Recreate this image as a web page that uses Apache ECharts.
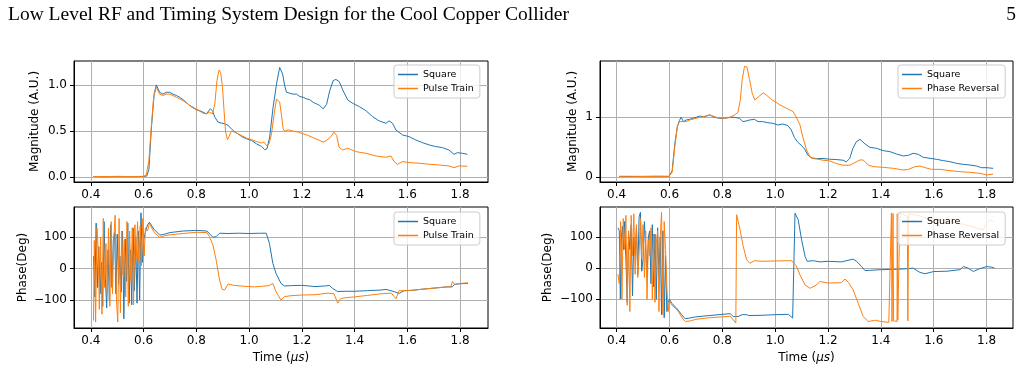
<!DOCTYPE html>
<html>
<head>
<meta charset="utf-8">
<script src="https://cdn.jsdelivr.net/npm/echarts@6/dist/echarts.min.js"></script>
<style>
  html, body { margin: 0; padding: 0; background: #fff; }
  #main { width: 1027px; height: 373px; }
</style>
</head>
<body>
<div id="main"></div>
<script>
// tick values
var timeTicks = [0.4, 0.6, 0.8, 1.0, 1.2, 1.4, 1.6, 1.8]
var magTicksA = [0, 0.5, 1.0]
var magTicksB = [0, 1]
var phaseTicks = [-100, 0, 100]

// top left: magnitude, square vs pulse train  [time us, A.U.]
var squareMagA = [[0.41,0.005],[0.45,0.003],[0.5,0.005],[0.55,0.004],[0.6,0.005],[0.612,0.01],[0.62,0.08],[0.63,0.55],[0.64,0.9],[0.648,1.0],[0.651,0.99],[0.661,0.92],[0.673,0.9],[0.686,0.92],[0.699,0.92],[0.711,0.9],[0.724,0.885],[0.737,0.866],[0.749,0.84],[0.762,0.81],[0.775,0.776],[0.787,0.758],[0.8,0.733],[0.813,0.72],[0.825,0.704],[0.838,0.686],[0.844,0.697],[0.853,0.74],[0.861,0.72],[0.87,0.65],[0.882,0.596],[0.895,0.585],[0.908,0.578],[0.92,0.56],[0.933,0.523],[0.946,0.487],[0.958,0.469],[0.971,0.44],[0.99,0.415],[1.009,0.397],[1.028,0.36],[1.047,0.332],[1.059,0.296],[1.068,0.307],[1.078,0.433],[1.091,0.758],[1.104,1.01],[1.116,1.19],[1.127,1.12],[1.135,0.99],[1.142,0.92],[1.154,0.91],[1.167,0.9],[1.18,0.9],[1.192,0.874],[1.205,0.866],[1.218,0.848],[1.23,0.84],[1.243,0.81],[1.256,0.794],[1.268,0.776],[1.281,0.74],[1.287,0.73],[1.294,0.79],[1.306,0.94],[1.319,1.047],[1.329,1.06],[1.342,1.036],[1.355,0.946],[1.374,0.837],[1.393,0.8],[1.418,0.764],[1.443,0.72],[1.468,0.656],[1.493,0.609],[1.519,0.583],[1.531,0.609],[1.544,0.583],[1.557,0.51],[1.582,0.456],[1.607,0.438],[1.632,0.402],[1.657,0.373],[1.683,0.348],[1.708,0.33],[1.733,0.319],[1.758,0.293],[1.777,0.246],[1.79,0.264],[1.809,0.257],[1.828,0.246]]
var pulseMag = [[0.41,0.005],[0.45,0.004],[0.5,0.006],[0.55,0.004],[0.6,0.006],[0.61,0.02],[0.62,0.18],[0.629,0.54],[0.638,0.866],[0.648,0.975],[0.661,0.9],[0.673,0.885],[0.686,0.9],[0.699,0.9],[0.711,0.885],[0.724,0.866],[0.737,0.848],[0.749,0.83],[0.762,0.805],[0.775,0.776],[0.787,0.75],[0.8,0.729],[0.813,0.715],[0.825,0.693],[0.838,0.686],[0.85,0.704],[0.861,0.686],[0.87,0.794],[0.878,1.047],[0.886,1.162],[0.892,1.137],[0.899,0.975],[0.905,0.722],[0.911,0.487],[0.918,0.404],[0.924,0.44],[0.933,0.498],[0.946,0.487],[0.958,0.469],[0.971,0.451],[0.99,0.422],[1.009,0.404],[1.028,0.386],[1.047,0.368],[1.056,0.379],[1.066,0.343],[1.076,0.361],[1.085,0.469],[1.095,0.686],[1.104,0.848],[1.11,0.866],[1.116,0.812],[1.123,0.668],[1.129,0.523],[1.135,0.495],[1.148,0.512],[1.167,0.498],[1.186,0.487],[1.205,0.469],[1.224,0.451],[1.243,0.426],[1.262,0.404],[1.281,0.379],[1.294,0.397],[1.309,0.433],[1.322,0.487],[1.332,0.451],[1.341,0.325],[1.355,0.293],[1.374,0.312],[1.405,0.275],[1.443,0.257],[1.481,0.228],[1.519,0.214],[1.538,0.228],[1.55,0.167],[1.563,0.138],[1.582,0.167],[1.607,0.156],[1.645,0.149],[1.683,0.138],[1.72,0.13],[1.758,0.12],[1.777,0.101],[1.796,0.12],[1.828,0.116]]

// top right: magnitude, square vs phase reversal
var squareMagB = [[0.41,0.01],[0.45,0.008],[0.5,0.01],[0.55,0.012],[0.598,0.01],[0.61,0.1],[0.62,0.55],[0.63,0.85],[0.638,0.95],[0.644,1.0],[0.653,0.927],[0.663,0.955],[0.676,0.966],[0.688,0.983],[0.701,1.0],[0.714,1.02],[0.733,1.01],[0.752,1.04],[0.77,1.0],[0.789,0.983],[0.808,0.983],[0.827,1.0],[0.846,1.0],[0.865,0.983],[0.878,0.927],[0.89,0.938],[0.903,0.955],[0.922,0.966],[0.935,0.927],[0.953,0.927],[0.972,0.91],[0.991,0.899],[1.01,0.871],[1.029,0.888],[1.048,0.86],[1.061,0.787],[1.073,0.66],[1.086,0.58],[1.099,0.53],[1.111,0.47],[1.124,0.365],[1.137,0.32],[1.156,0.309],[1.181,0.309],[1.206,0.298],[1.231,0.292],[1.257,0.281],[1.269,0.253],[1.282,0.309],[1.294,0.478],[1.307,0.59],[1.321,0.631],[1.34,0.553],[1.358,0.497],[1.384,0.48],[1.409,0.441],[1.434,0.425],[1.459,0.385],[1.485,0.352],[1.504,0.363],[1.522,0.397],[1.541,0.38],[1.56,0.33],[1.586,0.313],[1.611,0.296],[1.636,0.274],[1.661,0.257],[1.686,0.229],[1.712,0.212],[1.737,0.201],[1.762,0.184],[1.781,0.156],[1.8,0.156],[1.825,0.145]]
var phaseRevMag = [[0.41,0.01],[0.45,0.012],[0.5,0.008],[0.55,0.01],[0.598,0.01],[0.61,0.08],[0.62,0.5],[0.63,0.85],[0.638,0.927],[0.651,0.927],[0.663,0.927],[0.676,0.955],[0.701,0.983],[0.726,1.01],[0.752,1.04],[0.777,1.0],[0.802,0.983],[0.827,0.994],[0.846,1.04],[0.859,1.08],[0.868,1.29],[0.875,1.63],[0.884,1.854],[0.893,1.843],[0.903,1.63],[0.913,1.404],[0.923,1.29],[0.938,1.348],[0.955,1.41],[0.966,1.376],[0.985,1.3],[1.004,1.25],[1.018,1.207],[1.043,1.15],[1.068,1.095],[1.08,1.0],[1.094,0.87],[1.105,0.66],[1.119,0.45],[1.131,0.34],[1.143,0.309],[1.162,0.298],[1.181,0.281],[1.206,0.27],[1.231,0.225],[1.257,0.197],[1.282,0.197],[1.307,0.253],[1.321,0.285],[1.333,0.285],[1.352,0.201],[1.371,0.173],[1.409,0.162],[1.447,0.145],[1.485,0.117],[1.504,0.128],[1.529,0.173],[1.548,0.184],[1.567,0.156],[1.592,0.128],[1.623,0.128],[1.661,0.106],[1.699,0.089],[1.737,0.078],[1.775,0.061],[1.8,0.034],[1.825,0.05]]

// bottom left: phase, square vs pulse train  [time us, deg]
var squarePhaseA = [[0.41,40],[0.415,-90],[0.42,145],[0.425,-60],[0.43,70],[0.435,-80],[0.44,20],[0.445,-120],[0.45,150],[0.455,-30],[0.46,-125],[0.465,60],[0.47,-100],[0.475,140],[0.48,-60],[0.485,90],[0.49,115],[0.495,-80],[0.5,110],[0.505,-50],[0.51,40],[0.515,-75],[0.52,120],[0.525,-160],[0.53,95],[0.535,-40],[0.54,145],[0.545,-110],[0.55,60],[0.555,-115],[0.56,130],[0.565,-70],[0.57,100],[0.575,-110],[0.58,120],[0.585,-100],[0.59,178],[0.595,20],[0.6,90],[0.605,110],[0.615,140],[0.622,148],[0.64,125],[0.661,107],[0.68,110],[0.7,115],[0.75,120],[0.8,122],[0.84,120],[0.863,100],[0.875,102],[0.888,113],[0.92,112],[0.96,113],[1.0,112],[1.04,113],[1.065,113],[1.077,81],[1.09,17],[1.102,-15],[1.121,-47],[1.134,-55],[1.16,-54],[1.2,-53],[1.25,-57],[1.29,-55],[1.304,-53],[1.317,-63],[1.336,-73],[1.36,-72],[1.4,-72],[1.45,-70],[1.5,-68],[1.519,-66],[1.55,-73],[1.569,-79],[1.588,-70],[1.62,-69],[1.65,-66],[1.7,-62],[1.75,-58],[1.77,-58],[1.78,-50],[1.8,-48],[1.83,-47]]
var pulsePhase = [[0.41,-165],[0.413,90],[0.418,-170],[0.423,130],[0.428,60],[0.432,-130],[0.437,100],[0.442,-145],[0.447,160],[0.452,-60],[0.457,80],[0.462,-80],[0.467,130],[0.472,-120],[0.477,150],[0.482,-80],[0.487,95],[0.492,170],[0.497,-100],[0.502,-170],[0.507,160],[0.512,-140],[0.517,120],[0.522,-20],[0.527,90],[0.532,-90],[0.537,150],[0.542,-120],[0.547,120],[0.552,-40],[0.557,130],[0.562,-115],[0.567,140],[0.572,30],[0.577,150],[0.582,20],[0.587,135],[0.592,10],[0.597,160],[0.602,40],[0.607,130],[0.615,120],[0.622,145],[0.64,115],[0.66,100],[0.68,105],[0.7,108],[0.75,112],[0.8,116],[0.84,115],[0.85,102],[0.863,75],[0.875,28],[0.888,-36],[0.898,-66],[0.907,-68],[0.92,-49],[0.94,-53],[0.98,-56],[1.02,-58],[1.05,-56],[1.075,-54],[1.09,-47],[1.102,-73],[1.121,-100],[1.134,-89],[1.16,-86],[1.2,-84],[1.25,-83],[1.3,-78],[1.322,-80],[1.336,-110],[1.348,-95],[1.37,-92],[1.4,-90],[1.45,-85],[1.5,-80],[1.54,-78],[1.55,-89],[1.557,-96],[1.569,-70],[1.6,-70],[1.65,-66],[1.7,-62],[1.75,-58],[1.765,-58],[1.771,-41],[1.78,-50],[1.8,-47],[1.83,-45]]

// bottom right: phase, square vs phase reversal
var squarePhaseB = [[0.405,130],[0.41,120],[0.414,-100],[0.418,100],[0.422,135],[0.426,60],[0.43,150],[0.435,30],[0.44,-110],[0.445,120],[0.45,60],[0.455,140],[0.46,-90],[0.465,100],[0.47,40],[0.475,130],[0.48,-20],[0.485,165],[0.49,180],[0.495,-10],[0.5,30],[0.505,150],[0.51,150],[0.515,-30],[0.52,100],[0.525,120],[0.53,-50],[0.535,140],[0.54,-60],[0.545,110],[0.55,-100],[0.555,130],[0.56,-30],[0.565,100],[0.57,-150],[0.575,120],[0.58,-160],[0.585,40],[0.59,-140],[0.595,-110],[0.6,-100],[0.608,-113],[0.627,-129],[0.646,-150],[0.659,-163],[0.677,-161],[0.7,-157],[0.75,-153],[0.8,-149],[0.83,-147],[0.841,-156],[0.86,-156],[0.875,-150],[0.892,-150],[0.9,-153],[0.95,-152],[1.0,-150],[1.05,-149],[1.066,-161],[1.072,-167],[1.075,177],[1.087,156],[1.1,91],[1.113,38],[1.121,22],[1.144,24],[1.17,20],[1.2,22],[1.25,20],[1.295,29],[1.308,22],[1.327,5],[1.34,-8],[1.36,-7],[1.4,-5],[1.45,-4],[1.5,-2],[1.522,0],[1.548,-14],[1.567,-18],[1.6,-11],[1.65,-10],[1.7,-5],[1.712,5],[1.73,0],[1.75,-11],[1.77,-3],[1.8,5],[1.806,11],[1.82,3],[1.83,0]]
var phaseRevPhase = [[0.405,-20],[0.41,-50],[0.415,150],[0.42,-100],[0.425,160],[0.43,60],[0.435,170],[0.44,-120],[0.445,120],[0.45,-140],[0.455,170],[0.46,40],[0.465,175],[0.47,-20],[0.475,140],[0.48,-30],[0.485,50],[0.49,160],[0.495,30],[0.5,140],[0.505,-30],[0.51,120],[0.515,-100],[0.52,90],[0.525,40],[0.53,130],[0.535,-100],[0.54,110],[0.545,-110],[0.55,80],[0.555,120],[0.56,-140],[0.565,100],[0.57,180],[0.575,-150],[0.58,150],[0.585,60],[0.59,-60],[0.595,-140],[0.6,-105],[0.61,-120],[0.63,-135],[0.65,-163],[0.66,-172],[0.68,-170],[0.7,-165],[0.75,-160],[0.8,-157],[0.83,-155],[0.841,-167],[0.851,-177],[0.854,172],[0.867,124],[0.879,70],[0.892,27],[0.904,16],[0.923,24],[0.95,22],[1.0,23],[1.05,24],[1.062,24],[1.079,8],[1.094,-22],[1.113,-54],[1.132,-65],[1.157,-54],[1.169,-43],[1.2,-48],[1.25,-47],[1.264,-35],[1.277,-46],[1.295,-70],[1.314,-113],[1.333,-156],[1.352,-172],[1.38,-168],[1.4,-172],[1.43,-175],[1.436,-174],[1.44,178],[1.442,-172],[1.446,176],[1.448,-170],[1.461,-172],[1.462,175],[1.464,-168],[1.471,-170],[1.472,178],[1.475,172],[1.49,170],[1.5,168],[1.502,-170],[1.505,175],[1.51,177],[1.535,171],[1.573,161],[1.611,155],[1.649,155],[1.686,145],[1.724,139],[1.762,129],[1.787,123],[1.8,145],[1.812,155],[1.825,150]]

var BLUE = '#1f77b4'
var ORANGE = '#ff7f0e'
var FONT = 'DejaVu Sans'

function fmtNum(v, digits) {
    var s = digits ? Number(v).toFixed(digits) : String(Math.round(v))
    return v < 0 ? '\u2212' + s.replace('-', '') : s
}

function makeX(idx, min, max, withName) {
    var ax = {
        type: 'value', gridIndex: idx, min: min, max: max,
        axisLine: { show: true, onZero: false, lineStyle: { color: '#000', width: 1 } },
        axisTick: { show: true, length: 4, customValues: timeTicks, lineStyle: { color: '#000' } },
        axisLabel: { customValues: timeTicks, margin: 7, color: '#000', fontSize: 12, fontFamily: FONT,
            formatter: function (v) { return fmtNum(v, 1) } },
        splitLine: { show: true, lineStyle: { color: '#b0b0b0', width: 1 } }
    }
    if (withName) {
        ax.name = 'Time ({i|\u03bcs})'
        ax.nameLocation = 'middle'
        ax.nameGap = 24
        ax.nameTextStyle = { color: '#000', fontSize: 12, fontFamily: FONT,
            rich: { i: { fontStyle: 'italic', fontSize: 12, fontFamily: FONT, color: '#000' } } }
    }
    return ax
}

function makeY(idx, min, max, ticks, digits, name, gap) {
    return {
        type: 'value', gridIndex: idx, min: min, max: max,
        name: name, nameLocation: 'middle', nameRotate: 90, nameGap: gap,
        nameTextStyle: { color: '#000', fontSize: 12, fontFamily: FONT },
        axisLine: { show: true, onZero: false, lineStyle: { color: '#000', width: 1 } },
        axisTick: { show: true, length: 4, customValues: ticks, lineStyle: { color: '#000' } },
        axisLabel: { customValues: ticks, margin: 7, color: '#000', fontSize: 12, fontFamily: FONT,
            formatter: function (v) { return fmtNum(v, digits) } },
        splitLine: { show: true, lineStyle: { color: '#b0b0b0', width: 1 } }
    }
}

function makeLegend(left, top, names) {
    return {
        orient: 'vertical', left: left, top: top,
        icon: 'rect', itemWidth: 20, itemHeight: 1.5, itemGap: 3,
        padding: [4, 6, 4, 4],
        backgroundColor: 'rgba(255,255,255,0.8)',
        borderColor: '#cccccc', borderWidth: 1, borderRadius: 3,
        textStyle: { color: '#000', fontSize: 9.5, fontFamily: FONT, lineHeight: 11 },
        selectedMode: false,
        data: names
    }
}

function line(name, color, xi, data) {
    return {
        name: name, type: 'line', xAxisIndex: xi, yAxisIndex: xi,
        data: data, showSymbol: false, symbol: 'none',
        lineStyle: { color: color, width: 1 }, itemStyle: { color: color }
    }
}

var gridBox = { show: true, borderColor: '#000', borderWidth: 1, backgroundColor: 'transparent' }
var headStyle = { fontFamily: 'Liberation Serif', fontWeight: 'normal', fontSize: 19.5, color: '#000' }

var option = {
    animation: false,
    backgroundColor: '#fff',
    title: [
        { text: 'Low Level RF and Timing System Design for the Cool Copper Collider', left: 3, top: 0, textStyle: headStyle },
        { text: '5', right: 6, top: 0, textStyle: headStyle }
    ],
    grid: [
        Object.assign({ left: 74, top: 61, width: 414, height: 121 }, gridBox),
        Object.assign({ left: 74, top: 207, width: 414, height: 121 }, gridBox),
        Object.assign({ left: 600, top: 61, width: 413, height: 121 }, gridBox),
        Object.assign({ left: 600, top: 207, width: 413, height: 121 }, gridBox)
    ],
    xAxis: [
        makeX(0, 0.336, 1.906, false),
        makeX(1, 0.336, 1.906, true),
        makeX(2, 0.337, 1.9, false),
        makeX(3, 0.337, 1.9, true)
    ],
    yAxis: [
        makeY(0, -0.055, 1.26, magTicksA, 1, 'Magnitude (A.U.)', 33),
        makeY(1, -189, 196.5, phaseTicks, 0, 'Phase(Deg)', 45),
        makeY(2, -0.084, 1.943, magTicksB, 0, 'Magnitude (A.U.)', 21),
        makeY(3, -193, 197, phaseTicks, 0, 'Phase(Deg)', 46)
    ],
    legend: [
        makeLegend(394, 65, ['Square', 'Pulse Train']),
        makeLegend(394, 212, ['Square', 'Pulse Train']),
        makeLegend(898, 65, ['Square', 'Phase Reversal']),
        makeLegend(898, 212, ['Square', 'Phase Reversal'])
    ],
    series: [
        line('Square', BLUE, 0, squareMagA),
        line('Pulse Train', ORANGE, 0, pulseMag),
        line('Square', BLUE, 1, squarePhaseA),
        line('Pulse Train', ORANGE, 1, pulsePhase),
        line('Square', BLUE, 2, squareMagB),
        line('Phase Reversal', ORANGE, 2, phaseRevMag),
        line('Square', BLUE, 3, squarePhaseB),
        line('Phase Reversal', ORANGE, 3, phaseRevPhase)
    ]
}

var chart = echarts.init(document.getElementById('main'))
chart.setOption(option)
</script>
</body>
</html>
